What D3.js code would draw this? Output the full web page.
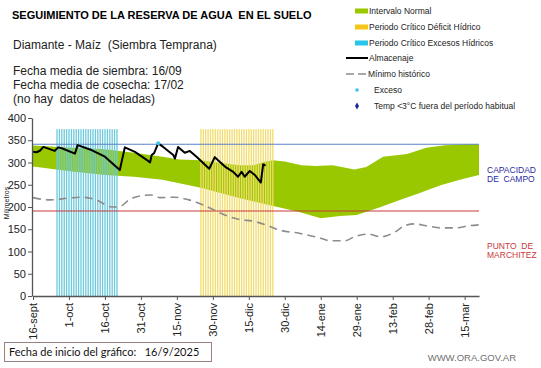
<!DOCTYPE html>
<html><head><meta charset="utf-8">
<script src="https://cdn.jsdelivr.net/npm/d3@7"></script>
<style>body{margin:0;background:#fff}svg{display:block}text{white-space:pre}</style>
</head><body><svg id="c" width="541" height="368"></svg>
<script>
// ---- data (day offsets from 16/9/2025) ----
const tickDays = [0,15,30,45,60,75,90,105,120,135,150,165,180];
const tickLabels = ["16-sept","1-oct","16-oct","31-oct","15-nov","30-nov","15-dic","30-dic","14-ene","29-ene","13-feb","28-feb","15-mar"];
const yTicks = [0,50,100,150,200,250,300,350,400];

const bandUpperDays = [0,17,30,42,54,61,70,74,86,92,97,100,105,112,118,125,134,139,146,156,164,172,182,186];
const bandUpperVals = [338,333,330,322,313,307,305,302,294,294,302,305,302,294,292,294,284,290,313,319,333,339,341,341];
const bandLowerDays = [0,17,30,42,54,70,86,102,111,120,128,135,145,153,161,170,178,186];
const bandLowerVals = [291,279,272,268,261,243,220,200,189,175,180,182,200,216,231,249,261,272];

const minHistDays = [0,7,15,20,28,31,34,37,40,45,49,53,59,65,70,74,80,86,92,97,103,111,120,124,130,134,140,145,151,155,159,164,170,176,182,186];
const minHistVals = [221,216,220,222,212,202,200,203,216,225,227,221,222,216,207,197,182,172,168,160,148,141,130,124,124,133,139,133,144,158,162,158,153,153,158,160];

const almDays = [0,1.5,3,4.3,7,9,10.5,12,17.5,18.6,24.4,30,36.2,38.3,42.5,47.4,48.8,49.5,50.5,52.2,54.3,58.5,59.2,60.5,63.3,65.4,68.2,73.5,75.8,80.5,83.5,85.5,87,88.3,90.4,92.5,95,96,97];
const almVals = [324,323,327,335,330,326,334,332,320,339,328,313,283,334,324,306,300,317,321,343,335,317,309,335,322,326,313,286,312,289,279,268,279,268,281,272,255,296,293];

const excesoDays = [52.2];
const excesoVals = [343];

const capacidadCampo = 341;
const puntoMarchitez = 191;
const critTop = 375;
const excesosPeriod = [10,35];
const deficitPeriod = [70,100];

// ---- drawing ----
const svg = d3.select("#c");
const x = d3.scaleLinear().domain([0,186]).range([33,479]);
const y = d3.scaleLinear().domain([0,400]).range([296,118]);

// band
const band = bandUpperDays.map((d,i)=>({d, v:bandUpperVals[i]}));
const lower = bandLowerDays.map((d,i)=>({d, v:bandLowerVals[i]})).reverse();
const bandPts = band.concat(lower);
svg.append("path")
  .attr("d", d3.line().x(p=>x(p.d)).y(p=>y(p.v)).curve(d3.curveLinear)(bandPts) + "Z")
  .attr("fill","#99c800");

// critical stripes
function stripes(range, color){
  const days = d3.range(range[0], range[1]+1);
  svg.append("g").selectAll("rect").data(days).join("rect")
    .attr("x", d=>x(d)-0.6).attr("width",1.3)
    .attr("y", y(critTop)).attr("height", y(0)-y(critTop))
    .attr("fill", color);
}
stripes(excesosPeriod, "#6ccadd");
stripes(deficitPeriod, "#f2dc6c");

// reference lines
svg.append("line").attr("x1",x(0)).attr("x2",x(186)).attr("y1",y(capacidadCampo)).attr("y2",y(capacidadCampo))
  .attr("stroke","#5b83c4").attr("stroke-width",1);
svg.append("line").attr("x1",x(0)).attr("x2",x(186)).attr("y1",y(puntoMarchitez)).attr("y2",y(puntoMarchitez))
  .attr("stroke","#c8393b").attr("stroke-width",1);

// min historic
svg.append("path")
  .attr("d", d3.line().x((d,i)=>x(minHistDays[i])).y((d,i)=>y(minHistVals[i])).curve(d3.curveMonotoneX)(minHistVals))
  .attr("fill","none").attr("stroke","#8c8c8c").attr("stroke-width",1.6).attr("stroke-dasharray","8,5");

// almacenaje
svg.append("path")
  .attr("d", d3.line().x((d,i)=>x(almDays[i])).y((d,i)=>y(almVals[i]))(almVals))
  .attr("fill","none").attr("stroke","#000").attr("stroke-width",2).attr("stroke-linejoin","round");

// exceso points
svg.append("g").selectAll("circle").data(excesoVals).join("circle")
  .attr("cx",(d,i)=>x(excesoDays[i])).attr("cy",d=>y(d)).attr("r",2).attr("fill","#3cc3e8");

// axes
const xAxis = d3.axisBottom(x).tickValues(tickDays).tickFormat((d,i)=>tickLabels[i]).tickSize(4).tickSizeOuter(0);
const gx = svg.append("g").attr("transform",`translate(0,${y(0)})`).call(xAxis);
gx.select(".domain").attr("stroke","#555").attr("stroke-width",1.3);
gx.selectAll(".tick line").attr("stroke","#555");
gx.selectAll("text").attr("font-family","Liberation Sans, Arial").attr("font-size",11).attr("fill","#222")
  .attr("transform","rotate(-90)").attr("text-anchor","end").attr("x",-7).attr("y",0).attr("dy","0.35em");

const yAxis = d3.axisLeft(y).tickValues(yTicks).tickSize(4).tickSizeOuter(0);
const gy = svg.append("g").attr("transform",`translate(${x(0)-1},0)`).call(yAxis);
gy.select(".domain").attr("stroke","#555").attr("stroke-width",1.3);
gy.selectAll(".tick line").attr("stroke","#555");
gy.selectAll("text").attr("font-family","Liberation Sans, Arial").attr("font-size",11).attr("fill","#222").attr("x",-6);

svg.append("text").attr("transform","translate(9,203) rotate(-90)").attr("text-anchor","middle")
  .attr("font-family","Liberation Sans, Arial").attr("font-size",7).attr("fill","#222").text("Milímetros");

// titles
const F = "Liberation Sans, Arial";
svg.append("text").attr("x",12).attr("y",19).attr("font-family",F).attr("font-weight","bold").attr("font-size",11).attr("fill","#000")
  .text("SEGUIMIENTO DE LA RESERVA DE AGUA  EN EL SUELO");
svg.append("text").attr("x",13).attr("y",49).attr("font-family",F).attr("font-size",12).attr("fill","#222").text("Diamante - Maíz  (Siembra Temprana)");
["Fecha media de siembra: 16/09","Fecha media de cosecha: 17/02","(no hay  datos de heladas)"].forEach((t,i)=>{
  svg.append("text").attr("x",13).attr("y",75+i*14).attr("font-family",F).attr("font-size",12).attr("fill","#222").text(t);
});

// legend
const lg = svg.append("g").attr("font-family",F).attr("font-size",8.5).attr("fill","#222");
const rows = [11,27,43,58,74,90,106];
lg.append("rect").attr("x",355).attr("y",rows[0]-2.5).attr("width",13).attr("height",5).attr("fill","#99c800");
lg.append("rect").attr("x",355).attr("y",rows[1]-2.5).attr("width",13).attr("height",5).attr("fill","#f5c518");
lg.append("rect").attr("x",355).attr("y",rows[2]-2.5).attr("width",13).attr("height",5).attr("fill","#28c4ea");
lg.append("line").attr("x1",346).attr("x2",368).attr("y1",rows[3]).attr("y2",rows[3]).attr("stroke","#000").attr("stroke-width",2);
lg.append("line").attr("x1",346).attr("x2",368).attr("y1",rows[4]).attr("y2",rows[4]).attr("stroke","#8c8c8c").attr("stroke-width",1.6).attr("stroke-dasharray","8,4");
lg.append("circle").attr("cx",357).attr("cy",rows[5]).attr("r",1.8).attr("fill","#3cc3e8");
lg.append("path").attr("d",d3.symbol().type(d3.symbolDiamond).size(14)()).attr("transform",`translate(357,${rows[6]})`).attr("fill","#1b2a9e");
const ltexts = ["Intervalo Normal","Periodo Crítico Déficit Hídrico","Periodo Crítico Excesos Hídricos","Almacenaje","Mínimo histórico","Exceso","Temp <3°C fuera del período habitual"];
const lx = [369,369,369,369,368,374,374];
ltexts.forEach((t,i)=>lg.append("text").attr("x",lx[i]).attr("y",rows[i]).attr("dy","0.35em").text(t));

// right labels
const rl = svg.append("g").attr("font-family",F).attr("font-size",8.5);
rl.append("text").attr("x",487).attr("y",173).attr("fill","#2a2aa0").text("CAPACIDAD");
rl.append("text").attr("x",487).attr("y",182).attr("fill","#2a2aa0").text("DE  CAMPO");
rl.append("text").attr("x",487).attr("y",249).attr("fill","#c8393b").text("PUNTO  DE");
rl.append("text").attr("x",487).attr("y",258).attr("fill","#c8393b").text("MARCHITEZ");

// bottom box
svg.append("rect").attr("x",4.5).attr("y",342.5).attr("width",207).attr("height",19).attr("fill","#fff").attr("stroke","#9a8080").attr("stroke-width",1);
svg.append("text").attr("x",9).attr("y",356).attr("font-family","Lato, Open Sans, sans-serif").attr("font-size",11).attr("fill","#111")
  .text("Fecha de inicio del gráfico:   16/9/2025");
svg.append("text").attr("x",516).attr("y",361).attr("text-anchor","end").attr("font-family",F).attr("font-size",9.5).attr("fill","#707070")
  .text("WWW.ORA.GOV.AR");
</script></body></html>
